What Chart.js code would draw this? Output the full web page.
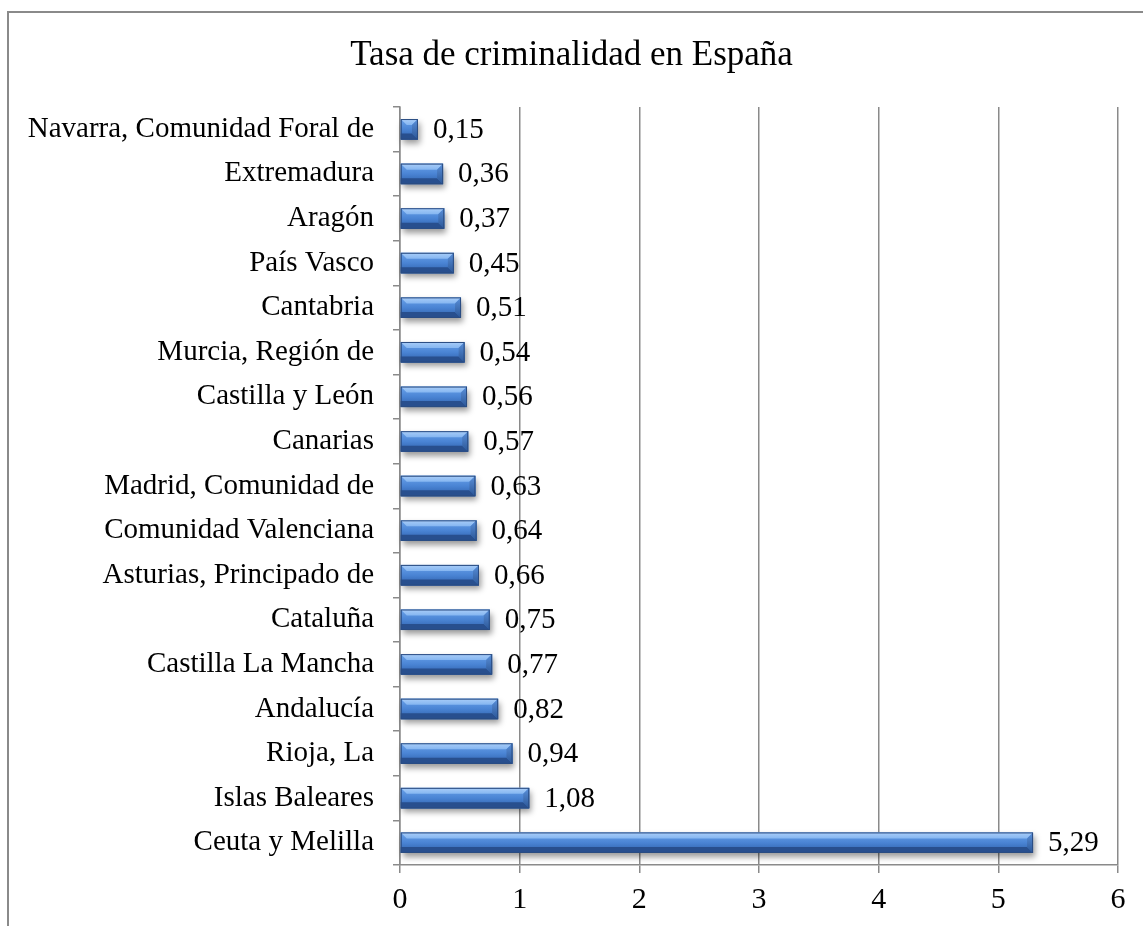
<!DOCTYPE html>
<html>
<head>
<meta charset="utf-8">
<script src="https://cdn.jsdelivr.net/npm/chart.js@4.4.1/dist/chart.umd.min.js"></script>
<style>
  body { margin: 0; background: #fff; overflow: hidden; }
  #wrap { position: relative; width: 1143px; height: 926px; }
  #frame { position: absolute; left: 7px; top: 11px; width: 1300px; height: 1100px; border: 2px solid #8a8a8a; }
  #grafico { position: absolute; left: 0; top: 0; }
</style>
</head>
<body>
<div id="wrap">
  <div id="frame"></div>
  <canvas id="grafico" width="1143" height="926"></canvas>
</div>
<script>
// comunidades, de arriba a abajo
const comunidades = [
    'Navarra, Comunidad Foral de',
    'Extremadura',
    'Aragón',
    'País Vasco',
    'Cantabria',
    'Murcia, Región de',
    'Castilla y León',
    'Canarias',
    'Madrid, Comunidad de',
    'Comunidad Valenciana',
    'Asturias, Principado de',
    'Cataluña',
    'Castilla La Mancha',
    'Andalucía',
    'Rioja, La',
    'Islas Baleares',
    'Ceuta y Melilla'
];
const tasas = [0.15, 0.36, 0.37, 0.45, 0.51, 0.54, 0.56, 0.57, 0.63, 0.64, 0.66, 0.75, 0.77, 0.82, 0.94, 1.08, 5.29];
const ejeX = [0, 1, 2, 3, 4, 5, 6];

const fuente = "'Liberation Serif', 'Times New Roman', serif";
const gris = '#8a8a8a';

// barras con relieve (bisel) y sombra
const biselPlugin = {
    id: 'bisel',
    beforeDatasetsDraw(chart) {
        const ctx = chart.ctx;
        const meta = chart.getDatasetMeta(0);
        ctx.save();
        meta.data.forEach(bar => {
            const h = bar.height;
            ctx.shadowColor = 'rgba(0,0,0,0.4)';
            ctx.shadowBlur = 6;
            ctx.shadowOffsetX = 2;
            ctx.shadowOffsetY = 4;
            ctx.fillStyle = '#3a67a5';
            ctx.fillRect(bar.base, bar.y - h / 2, bar.x - bar.base, h);
        });
        ctx.restore();
    },
    afterDatasetsDraw(chart) {
        const ctx = chart.ctx;
        const meta = chart.getDatasetMeta(0);
        ctx.save();
        meta.data.forEach((bar, i) => {
            const L = bar.base, R = bar.x;
            const T = bar.y - bar.height / 2, B = bar.y + bar.height / 2;
            const b = Math.min(6, (R - L) / 2);

            // cara central
            let g = ctx.createLinearGradient(0, T, 0, B);
            g.addColorStop(0, '#6aa2ea');
            g.addColorStop(0.5, '#4a84d4');
            g.addColorStop(1, '#2d5ea8');
            ctx.fillStyle = g;
            ctx.fillRect(L, T, R - L, B - T);

            // faceta superior
            g = ctx.createLinearGradient(0, T, 0, T + b);
            g.addColorStop(0, '#a9cdf8');
            g.addColorStop(1, '#85b6f1');
            ctx.fillStyle = g;
            ctx.beginPath();
            ctx.moveTo(L, T); ctx.lineTo(R, T); ctx.lineTo(R - b, T + b); ctx.lineTo(L + b, T + b);
            ctx.closePath(); ctx.fill();

            // faceta inferior
            ctx.fillStyle = '#284f8e';
            ctx.beginPath();
            ctx.moveTo(L, B - b); ctx.lineTo(R - b, B - b); ctx.lineTo(R, B); ctx.lineTo(L, B);
            ctx.closePath(); ctx.fill();

            // faceta derecha
            g = ctx.createLinearGradient(0, T, 0, B);
            g.addColorStop(0, '#5a90da');
            g.addColorStop(1, '#2b5696');
            ctx.fillStyle = g;
            ctx.beginPath();
            ctx.moveTo(R - b, T + b); ctx.lineTo(R, T); ctx.lineTo(R, B); ctx.lineTo(R - b, B - b);
            ctx.closePath(); ctx.fill();

            ctx.strokeStyle = '#2a4c82';
            ctx.lineWidth = 1;
            ctx.strokeRect(L + 0.5, T + 0.5, R - L - 1, B - T - 1);

            // etiqueta de valor
            ctx.fillStyle = '#000';
            ctx.font = '29px ' + fuente;
            ctx.textAlign = 'left';
            ctx.textBaseline = 'middle';
            ctx.fillText(tasas[i].toFixed(2).replace('.', ','), R + 15, bar.y + 1);
        });
        ctx.restore();
    }
};

new Chart(document.getElementById('grafico'), {
    type: 'bar',
    data: {
        labels: comunidades,
        datasets: [{
            label: 'Tasa de criminalidad',
            data: tasas,
            backgroundColor: 'rgba(0,0,0,0)',
            borderWidth: 0,
            categoryPercentage: 1,
            barPercentage: 0.46
        }]
    },
    options: {
        indexAxis: 'y',
        responsive: false,
        animation: false,
        layout: { padding: { left: 25, right: 25, top: 0, bottom: 0 } },
        plugins: {
            legend: { display: false },
            tooltip: { enabled: false },
            title: {
                display: true,
                text: 'Tasa de criminalidad en España',
                color: '#000',
                font: { family: fuente, size: 35, weight: 'normal', lineHeight: 1.2 },
                padding: { top: 35, bottom: 30 }
            }
        },
        scales: {
            x: {
                min: 0,
                max: 6,
                afterBuildTicks: scale => { scale.ticks = ejeX.map(v => ({ value: v })); },
                afterFit: scale => { scale.height = 61; },
                border: { color: gris, width: 1.5 },
                grid: { color: gris, lineWidth: 1.5, tickLength: 8 },
                ticks: {
                    color: '#000',
                    padding: 9,
                    font: { family: fuente, size: 30 }
                }
            },
            y: {
                afterFit: scale => { scale.width = 375; },
                border: { color: gris, width: 1.5 },
                grid: { drawOnChartArea: false, color: gris, lineWidth: 1.5, tickLength: 7 },
                ticks: {
                    color: '#000',
                    padding: 19,
                    autoSkip: false,
                    font: { family: fuente, size: 29 }
                }
            }
        }
    },
    plugins: [biselPlugin]
});
</script>
</body>
</html>
